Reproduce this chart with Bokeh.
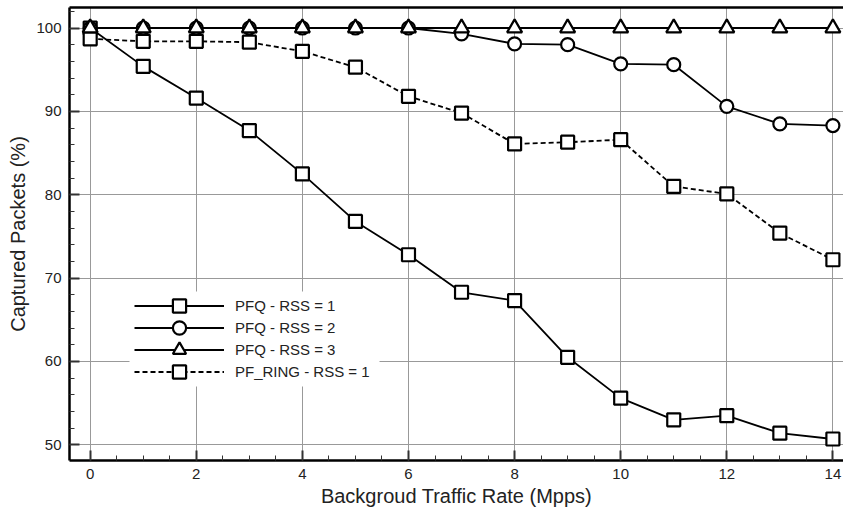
from bokeh.plotting import figure
from bokeh.models import (Range1d, SingleIntervalTicker, FixedTicker, LinearAxis, Legend,
                          LegendItem, BoxAnnotation)
from bokeh.embed import file_html
from bokeh.resources import INLINE

# ---- data ----
rate = [0, 1, 2, 3, 4, 5, 6, 7, 8, 9, 10, 11, 12, 13, 14]
pfq_rss1 = [100, 95.4, 91.6, 87.7, 82.5, 76.8, 72.8, 68.3, 67.3, 60.5, 55.6, 53.0, 53.5, 51.4, 50.7]
pfq_rss2 = [100, 100, 100, 100, 100, 100, 100, 99.3, 98.1, 98.0, 95.7, 95.6, 90.6, 88.5, 88.3]
pfq_rss3 = [100, 100, 100, 100, 100, 100, 100, 100, 100, 100, 100, 100, 100, 100, 100]
pfring_rss1 = [98.7, 98.4, 98.4, 98.3, 97.2, 95.3, 91.8, 89.8, 86.1, 86.3, 86.6, 81.0, 80.1, 75.4, 72.2]
labels = ["PFQ - RSS = 1", "PFQ - RSS = 2", "PFQ - RSS = 3", "PF_RING - RSS = 1"]

FONT = "Liberation Sans"

p = figure(width=843, height=511, output_backend="svg", toolbar_location=None,
           x_range=Range1d(-0.39, 14.2), y_range=Range1d(48.12, 102.46),
           min_border_left=69, min_border_right=0, min_border_top=7, min_border_bottom=51)
p.outline_line_color = None
p.background_fill_color = "white"
p.border_fill_color = "white"

xt = SingleIntervalTicker(interval=2, num_minor_ticks=4)
yt = SingleIntervalTicker(interval=10, num_minor_ticks=5)
p.xaxis.ticker = xt
p.yaxis.ticker = yt
p.xgrid.ticker = xt
p.ygrid.ticker = yt
for g in (p.xgrid, p.ygrid):
    g.grid_line_color = "#999999"
    g.grid_line_width = 1

for ax in (p.xaxis, p.yaxis):
    ax.axis_line_width = 2.5
    ax.axis_line_color = "black"
    ax.major_tick_in = 10
    ax.major_tick_out = 0
    ax.minor_tick_in = 5
    ax.minor_tick_out = 0
    ax.major_tick_line_width = 2
    ax.minor_tick_line_width = 1
    ax.major_tick_line_color = "#333333"
    ax.minor_tick_line_color = "#333333"
    ax.major_label_text_font = FONT
    ax.major_label_text_font_size = "15px"
    ax.major_label_text_color = "#222222"
    ax.major_label_standoff = 8
    ax.axis_label_text_font = FONT
    ax.axis_label_text_font_size = "20px"
    ax.axis_label_text_font_style = "normal"
    ax.axis_label_text_color = "#222222"

p.xaxis.axis_label = "Backgroud Traffic Rate (Mpps)"
p.yaxis.axis_label = "Captured Packets (%)"
p.xaxis.axis_label_standoff = 3
p.yaxis.axis_label_standoff = 4

top = LinearAxis(ticker=FixedTicker(ticks=[]), axis_line_width=2.5, axis_line_color="black",
                 major_tick_out=0, major_tick_in=0, minor_tick_out=0, minor_tick_in=0,
                 major_label_standoff=0)
p.add_layout(top, "above")

LW = 1.8
MLW = 2.2
r1l = p.line(rate, pfq_rss1, line_color="black", line_width=LW)
r1m = p.scatter(rate, pfq_rss1, marker="square", size=13, fill_color="white", line_color="black", line_width=MLW)
r2l = p.line(rate, pfq_rss2, line_color="black", line_width=LW)
r2m = p.scatter(rate, pfq_rss2, marker="circle", size=13, fill_color="white", line_color="black", line_width=MLW)
r4l = p.line(rate, pfring_rss1, line_color="black", line_width=LW, line_dash="5 3")
r4m = p.scatter(rate, pfring_rss1, marker="square", size=13, fill_color="white", line_color="black", line_width=MLW)
r3l = p.line(rate, pfq_rss3, line_color="black", line_width=LW)
r3m = p.scatter(rate, pfq_rss3, marker="triangle", size=15, fill_color="white", line_color="black", line_width=MLW)

# white legend background (frame-relative screen units)
bg = BoxAnnotation(left=60, right=310, bottom=74, top=169,
                   left_units="screen", right_units="screen",
                   bottom_units="screen", top_units="screen",
                   fill_color="white", fill_alpha=1, line_alpha=0)
p.add_layout(bg)

rows = [([r1l, r1m], 138.5), ([r2l, r2m], 116), ([r3l, r3m], 94), ([r4l, r4m], 72)]
for (rends, ybot), lab in zip(rows, labels):
    lg = Legend(items=[LegendItem(label=lab, renderers=rends)], location=(65, ybot))
    lg.glyph_width = 90
    lg.glyph_height = 33
    lg.label_height = 22
    lg.spacing = 0
    lg.padding = 0
    lg.margin = 0
    lg.label_standoff = 11
    lg.label_text_font = FONT
    lg.label_text_font_size = "15px"
    lg.label_text_color = "#222222"
    lg.border_line_color = None
    lg.background_fill_alpha = 0
    p.add_layout(lg, "center")

open("out.html", "w").write(file_html(p, INLINE))
